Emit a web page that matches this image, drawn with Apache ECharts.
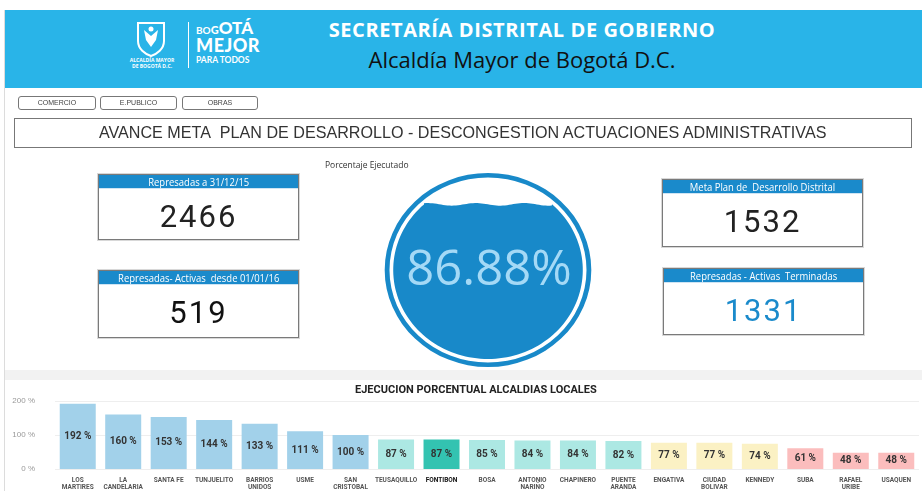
<!DOCTYPE html>
<html>
<head>
<meta charset="utf-8">
<script src="https://cdn.jsdelivr.net/npm/echarts@6/dist/echarts.min.js"></script>
<style>
    body {
        margin: 0;
        width: 922px;
        height: 491px;
        overflow: hidden;
        background: #fff;
        position: relative;
        font-family: "Open Sans", sans-serif;
    }
    #dashChart {
        position: absolute;
        left: 0;
        top: 0;
        width: 922px;
        height: 491px;
        z-index: 0;
    }
    .abs { position: absolute; z-index: 1; }
    .edge { left: 4px; top: 10px; width: 1px; height: 481px; background: #dcdcdc; }
    .band { left: 5px; top: 370px; width: 917px; height: 10px; background: #f2f2f2; }
    .header { left: 5px; top: 10px; width: 917px; height: 78px; background: #29B4E8; }
    .sec-title {
        left: 250px; top: 16px; width: 544px; text-align: center;
        color: #fff; font-weight: 700; font-size: 20px; letter-spacing: 0.6px;
    }
    .sub-title {
        left: 250px; top: 44px; width: 544px; text-align: center;
        color: #111; font-size: 22px;
    }
    .logo-line { left: 188px; top: 22px; width: 1px; height: 46px; background: #fff; }
    .logo-small { left: 122px; top: 57px; width: 60px; text-align: center; color: #fff; font-size: 5px; line-height: 6px; font-weight: 700; }
    .bogota { left: 196px; top: 20px; color: #fff; font-family: Lato, sans-serif; font-weight: 900; line-height: 15px; }
    .btn {
        top: 96px; height: 12px; border: 1px solid #777; border-radius: 3px;
        font-size: 7px; line-height: 12px; text-align: center; color: #444;
        font-family: "Liberation Sans", sans-serif;
    }
    .main-title {
        left: 14px; top: 118px; width: 896px; height: 28px; border: 1px solid #777;
        text-align: center; line-height: 28px; font-size: 17px; color: #333;
        font-family: "Liberation Sans", sans-serif;
    }
    .main-title span { display: inline-block; transform: scaleX(0.948); white-space: nowrap; }
    .pct-cap { left: 325px; top: 159px; font-size: 8.5px; color: #333; }
    .kpi { border: 1px solid #7a7a7a; background: #fff; box-shadow: 0 0 0 1px #d8d8d8; }
    .kpi .hd {
        background: #1A8ACB; color: #fff; font-size: 11px; height: 13px; line-height: 13px;
        text-align: center; border-bottom: 1px solid #cfe4f3; white-space: nowrap; overflow: hidden;
    }
    .kpi .hd span { display: inline-block; transform: scaleX(0.86); }
    .kpi .num {
        text-align: center; font-family: Roboto, sans-serif; font-size: 31px; color: #222;
        letter-spacing: 2px; margin-top: 9px;
    }
</style>
</head>
<body>
<div id="dashChart"></div>
<div class="abs edge"></div>
<div class="abs band"></div>
<div class="abs header"></div>

<svg class="abs" style="left:135px;top:21px" width="32" height="36" viewBox="0 0 32 36">
    <path d="M3 2 H29 V20 C29 28 22 33 16 35 C10 33 3 28 3 20 Z" fill="none" stroke="#fff" stroke-width="2"/>
    <path d="M9 9 L16 15 L23 9 L21 19 L16 26 L11 19 Z" fill="#fff"/>
    <circle cx="16" cy="8" r="2.5" fill="#fff"/>
</svg>
<div class="abs logo-small">ALCALDÍA MAYOR<br>DE BOGOTÁ D.C.</div>
<div class="abs logo-line"></div>
<div class="abs bogota">
    <span style="font-size:10px;font-weight:700">BO</span><span style="font-size:11px">G</span><span style="font-size:17px">OTÁ</span><br>
    <span style="font-size:18px;letter-spacing:0.5px">MEJOR</span><br>
    <span style="font-size:8.5px;font-weight:700;position:relative;top:-4px">PARA TODOS</span>
</div>
<div class="abs sec-title">SECRETARÍA DISTRITAL DE GOBIERNO</div>
<div class="abs sub-title">Alcaldía Mayor de Bogotá D.C.</div>

<div class="abs btn" style="left:18px;width:76px">COMERCIO</div>
<div class="abs btn" style="left:100px;width:75px">E.PUBLICO</div>
<div class="abs btn" style="left:182px;width:74px">OBRAS</div>

<div class="abs main-title"><span>AVANCE META&nbsp; PLAN DE DESARROLLO - DESCONGESTION ACTUACIONES ADMINISTRATIVAS</span></div>
<div class="abs pct-cap">Porcentaje Ejecutado</div>

<div class="abs kpi" style="left:98px;top:174px;width:199px;height:64px">
    <div class="hd"><span>Represadas a 31/12/15</span></div>
    <div class="num" id="kpiA"></div>
</div>
<div class="abs kpi" style="left:98px;top:270px;width:199px;height:66px">
    <div class="hd"><span>Represadas- Activas&nbsp; desde 01/01/16</span></div>
    <div class="num" id="kpiB" style="color:#111"></div>
</div>
<div class="abs kpi" style="left:662px;top:179px;width:199px;height:66px">
    <div class="hd"><span>Meta Plan de&nbsp; Desarrollo Distrital</span></div>
    <div class="num" id="kpiC"></div>
</div>
<div class="abs kpi" style="left:663px;top:268px;width:199px;height:65px">
    <div class="hd"><span>Represadas - Activas&nbsp; Terminadas</span></div>
    <div class="num" id="kpiD" style="color:#1A8ACB"></div>
</div>

<script>
// indicadores
const kpiRepresadas = 2466
const kpiActivas = 519
const kpiMeta = 1532
const kpiTerminadas = 1331
const porcentajeEjecutado = 0.8688

// ejecucion porcentual alcaldias locales
const localidades = ['LOS\nMARTIRES', 'LA\nCANDELARIA', 'SANTA FE', 'TUNJUELITO', 'BARRIOS\nUNIDOS', 'USME',
    'SAN\nCRISTOBAL', 'TEUSAQUILLO', 'FONTIBON', 'BOSA', 'ANTONIO\nNARIÑO', 'CHAPINERO', 'PUENTE\nARANDA',
    'ENGATIVA', 'CIUDAD\nBOLIVAR', 'KENNEDY', 'SUBA', 'RAFAEL\nURIBE', 'USAQUEN']
const ejecucion = [192, 160, 153, 144, 133, 111, 100, 87, 87, 85, 84, 84, 82, 77, 77, 74, 61, 48, 48]
const seleccion = 'FONTIBON'

document.getElementById('kpiA').textContent = kpiRepresadas
document.getElementById('kpiB').textContent = kpiActivas
document.getElementById('kpiC').textContent = kpiMeta
document.getElementById('kpiD').textContent = kpiTerminadas

function barColor (name, val) {
    if (name === seleccion) return '#33C3B1'
    if (val >= 100) return '#A2D1EA'
    if (val >= 80) return '#ACE8E3'
    if (val >= 70) return '#FBF1C4'
    return '#FBBDBD'
}

// liquid fill drawn with graphic elements
function liquidShapes () {
    const r = 89
    const level = r - 2 * r * porcentajeEjecutado
    const xr = Math.sqrt(r * r - level * level)
    const pts = []
    for (let x = -xr; x <= xr; x += 2) {
        pts.push([x, level + 1.3 * Math.sin(x / 7.2)])
    }
    const a0 = Math.atan2(level, xr)
    const a1 = Math.PI - a0
    for (let t = a0; t <= a1; t += 0.04) {
        pts.push([r * Math.cos(t), r * Math.sin(t)])
    }
    pts.push([-xr, level])
    return [
        {
            type: 'group',
            x: 488,
            y: 270,
            scaleX: 1.065,
            children: [
                { type: 'ring', shape: { cx: 0, cy: 0, r: 97, r0: 92.5 }, style: { fill: '#1889C9' } },
                { type: 'polygon', shape: { points: pts }, style: { fill: '#1889C9' } }
            ]
        },
        {
            type: 'text',
            x: 489,
            y: 271,
            style: {
                text: (porcentajeEjecutado * 100).toFixed(2) + '%',
                fill: '#A4D9F6',
                font: '400 49px "Open Sans", sans-serif',
                align: 'center',
                verticalAlign: 'middle'
            }
        }
    ]
}

const chart = echarts.init(document.getElementById('dashChart'))
chart.setOption({
    animation: false,
    title: {
        text: 'EJECUCION PORCENTUAL ALCALDIAS LOCALES',
        left: 350,
        top: 380,
        textStyle: { fontSize: 11, fontWeight: 'bold', color: '#222', fontFamily: 'Roboto, sans-serif' }
    },
    graphic: liquidShapes(),
    grid: { left: 55, right: 3, top: 401, bottom: 21 },
    xAxis: {
        type: 'category',
        data: localidades,
        axisLine: { show: false },
        axisTick: { show: false },
        axisLabel: {
            interval: 0,
            margin: 8,
            fontSize: 6.5,
            fontWeight: 'bold',
            color: '#555',
            lineHeight: 7,
            fontFamily: 'Roboto, sans-serif',
            formatter: function (v) {
                return v === seleccion ? '{s|' + v + '}' : v
            },
            rich: {
                s: { fontSize: 6.5, fontWeight: 'bold', color: '#111', fontFamily: 'Roboto, sans-serif' }
            }
        }
    },
    yAxis: {
        type: 'value',
        min: 0,
        max: 200,
        interval: 100,
        axisLabel: { formatter: '{value} %', fontSize: 8, color: '#999', margin: 20 },
        splitLine: { lineStyle: { color: '#eeeeee' } }
    },
    series: [
        {
            type: 'bar',
            barWidth: 36,
            data: ejecucion,
            itemStyle: {
                color: function (p) { return barColor(p.name, p.value) }
            },
            label: {
                show: true,
                position: 'inside',
                formatter: '{c} %',
                fontSize: 10,
                fontWeight: 'bold',
                color: '#333',
                fontFamily: 'Roboto, sans-serif'
            }
        }
    ]
})
</script>
</body>
</html>
